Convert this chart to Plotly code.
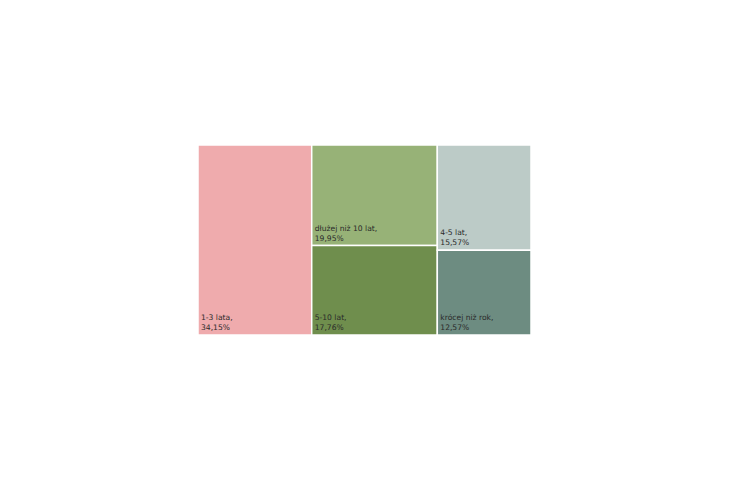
import plotly.graph_objects as go

labels = ["1-3 lata", "dłużej niż 10 lat", "5-10 lat", "4-5 lat", "krócej niż rok"]
values = [34.15, 19.95, 17.76, 15.57, 12.57]
colors = ["#EFABAD", "#97B277", "#6F8E4D", "#BCCBC7", "#6D8C81"]

fig = go.Figure(go.Treemap(
    labels=labels,
    parents=[""] * len(labels),
    values=values,
    sort=True,
    texttemplate="%{label},<br>%{value:.2f}%",
    textposition="bottom left",
    textfont=dict(family="DejaVu Sans, Verdana, sans-serif", size=7.6, color="#2a2a2a"),
    marker=dict(colors=colors, line=dict(color="white", width=1.5), pad=dict(t=0, l=0, r=0, b=0)),
    tiling=dict(packing="squarify", pad=0),
    hoverinfo="label+value",
    domain=dict(x=[190/730, 523/730], y=[1-327/480, 1-137/480]),
))
fig.update_layout(
    width=730, height=480,
    margin=dict(l=0, r=0, t=0, b=0),
    paper_bgcolor="white",
    separators=", ",
)
fig.write_html("out.html")
